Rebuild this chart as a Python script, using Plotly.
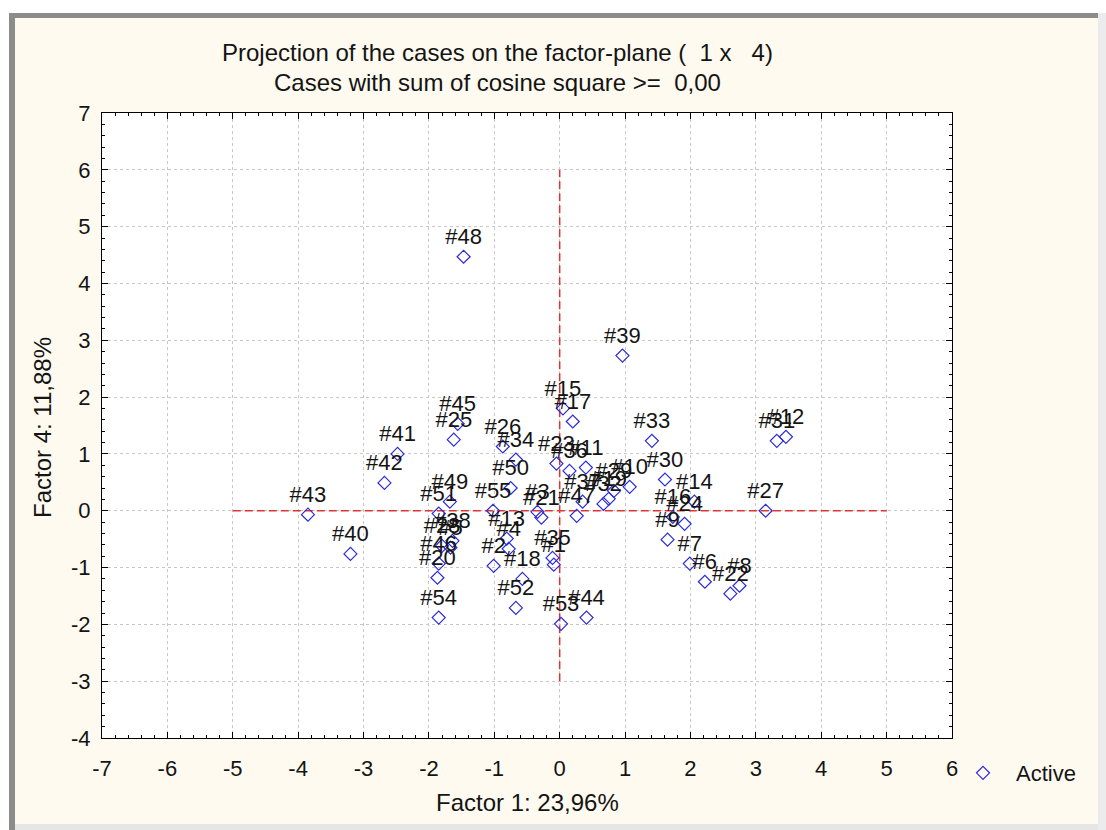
import plotly.graph_objects as go

# ---- data ----
case_labels = [
    "#1", "#2", "#3", "#4", "#5", "#6", "#7", "#8", "#9", "#10",
    "#11", "#12", "#13", "#14", "#15", "#16", "#17", "#18", "#19", "#20",
    "#21", "#22", "#23", "#24", "#25", "#26", "#27", "#28", "#29", "#30",
    "#31", "#32", "#33", "#34", "#35", "#36", "#37", "#38", "#39", "#40",
    "#41", "#42", "#43", "#44", "#45", "#46", "#47", "#48", "#49", "#50",
    "#51", "#52", "#53", "#54", "#55",
]
factor1 = [
    -0.09, -1.01, -0.34, -0.78, -1.67, 2.22, 1.99, 2.75, 1.65, 1.07,
    0.40, 3.46, -0.81, 2.06, 0.05, 1.73, 0.20, -0.57, 0.75, -1.87,
    -0.28, 2.61, -0.05, 1.91, -1.62, -0.87, 3.15, -1.80, 0.83, 1.61,
    3.32, 0.67, 1.41, -0.67, -0.11, 0.15, 0.35, -1.64, 0.96, -3.20,
    -2.48, -2.68, -3.85, 0.41, -1.56, -1.85, 0.26, -1.47, -1.68, -0.75,
    -1.85, -0.67, 0.02, -1.85, -1.02,
]
factor4 = [
    -0.95, -0.97, -0.02, -0.67, -0.65, -1.25, -0.93, -1.32, -0.51, 0.42,
    0.76, 1.30, -0.49, 0.16, 1.80, -0.11, 1.57, -1.20, 0.21, -1.18,
    -0.12, -1.46, 0.83, -0.23, 1.25, 1.13, 0.00, -0.62, 0.35, 0.55,
    1.23, 0.12, 1.23, 0.90, -0.83, 0.70, 0.16, -0.53, 2.73, -0.76,
    1.00, 0.49, -0.07, -1.88, 1.53, -0.93, -0.09, 4.47, 0.16, 0.40,
    -0.05, -1.71, -1.99, -1.88, 0.00,
]

# reference (origin) lines
hline_x = [-5, 5]
hline_y = [0, 0]
vline_x = [0, 0]
vline_y = [-3, 6]

# axes
x_ticks = [-7, -6, -5, -4, -3, -2, -1, 0, 1, 2, 3, 4, 5, 6]
x_ticktext = ["-7", "-6", "-5", "-4", "-3", "-2", "-1", "0", "1", "2", "3", "4", "5", "6"]
y_ticks = [-4, -3, -2, -1, 0, 1, 2, 3, 4, 5, 6, 7]
y_ticktext = ["-4", "-3", "-2", "-1", "0", "1", "2", "3", "4", "5", "6", "7"]

title_line1 = "Projection of the cases on the factor-plane (  1 x   4)"
title_line2 = "Cases with sum of cosine square >=  0,00"
x_title = "Factor 1: 23,96%"
y_title = "Factor 4: 11,88%"
legend_name = "Active"

# ---- figure ----
W, H = 1106, 830
L, R, T, B = 102, 952, 113, 738  # plot area in pixels


def px(x):
    return (x - L) / (R - L)


def py(y):
    return (B - y) / (B - T)


FONT = "Liberation Sans, Arial, sans-serif"
TXT = "#141414"
RED = "#e03434"
BLUE = "#2b2bdc"

fig = go.Figure()

fig.add_trace(go.Scatter(
    x=hline_x, y=hline_y, mode="lines",
    line=dict(color=RED, width=1.5, dash="8px,4px"),
    showlegend=False, hoverinfo="skip",
))
fig.add_trace(go.Scatter(
    x=vline_x, y=vline_y, mode="lines",
    line=dict(color=RED, width=1.5, dash="8px,4px"),
    showlegend=False, hoverinfo="skip",
))

fig.add_trace(go.Scatter(
    x=factor1, y=factor4, mode="markers+text",
    text=case_labels, textposition="top center",
    textfont=dict(family=FONT, size=22, color=TXT),
    marker=dict(symbol="diamond-open", size=10, color=BLUE,
                line=dict(color=BLUE, width=1.2)),
    name=legend_name, showlegend=True,
))

axis_common = dict(
    showgrid=True, gridcolor="#c8c8c8", griddash="dot", gridwidth=1,
    zeroline=False, showline=True, linecolor="#000000", linewidth=1.2,
    mirror="allticks", ticks="inside", ticklen=6, tickcolor="#000000",
    tickfont=dict(family=FONT, size=22, color=TXT),
    minor=dict(ticks="inside", ticklen=3, dtick=0.2, tickcolor="#000000",
               showgrid=False),
)

fig.update_xaxes(range=[-7, 6], tickmode="array", tickvals=x_ticks,
                 ticktext=x_ticktext, ticklabelstandoff=10, **axis_common)
fig.update_yaxes(range=[-4, 7], tickmode="array", tickvals=y_ticks,
                 ticktext=y_ticktext, ticklabelstandoff=6, **axis_common)

annotations = [
    dict(text=title_line1, x=px(497), y=py(52), xref="paper", yref="paper",
         showarrow=False, xanchor="center", yanchor="middle",
         font=dict(family=FONT, size=24, color=TXT)),
    dict(text=title_line2, x=px(497), y=py(83), xref="paper", yref="paper",
         showarrow=False, xanchor="center", yanchor="middle",
         font=dict(family=FONT, size=24, color=TXT)),
    dict(text=x_title, x=0.5, y=py(802), xref="paper", yref="paper",
         showarrow=False, xanchor="center", yanchor="middle",
         font=dict(family=FONT, size=24, color=TXT)),
    dict(text=y_title, x=px(42), y=py(428), xref="paper", yref="paper",
         showarrow=False, xanchor="center", yanchor="middle", textangle=-90,
         font=dict(family=FONT, size=24, color=TXT)),
]

shapes = [
    # white outer area and window frame
    dict(type="rect", xref="paper", yref="paper", layer="below",
         x0=px(0), x1=px(W), y0=py(0), y1=py(13), fillcolor="#ffffff", line_width=0),
    dict(type="rect", xref="paper", yref="paper", layer="below",
         x0=px(0), x1=px(9), y0=py(0), y1=py(H), fillcolor="#ffffff", line_width=0),
    dict(type="rect", xref="paper", yref="paper", layer="below",
         x0=px(9), x1=px(1100), y0=py(13), y1=py(18), fillcolor="#8c8c8c", line_width=0),
    dict(type="rect", xref="paper", yref="paper", layer="below",
         x0=px(9), x1=px(15), y0=py(13), y1=py(H), fillcolor="#8c8c8c", line_width=0),
    dict(type="rect", xref="paper", yref="paper", layer="below",
         x0=px(1098), x1=px(W), y0=py(13), y1=py(H), fillcolor="#ececec", line_width=0),
    dict(type="rect", xref="paper", yref="paper", layer="below",
         x0=px(15), x1=px(1098), y0=py(824), y1=py(H), fillcolor="#e6e6e6", line_width=0),
]

fig.update_layout(
    width=W, height=H,
    margin=dict(l=L, r=W - R, t=T, b=H - B, pad=0),
    paper_bgcolor="#fefaef", plot_bgcolor="#ffffff",
    font=dict(family=FONT, color=TXT),
    showlegend=True,
    legend=dict(x=px(950), y=py(773), xanchor="left", yanchor="middle",
                bgcolor="rgba(0,0,0,0)", borderwidth=0, itemwidth=56,
                font=dict(family=FONT, size=22, color=TXT)),
    annotations=annotations,
    shapes=shapes,
)

fig.write_html("out.html")
